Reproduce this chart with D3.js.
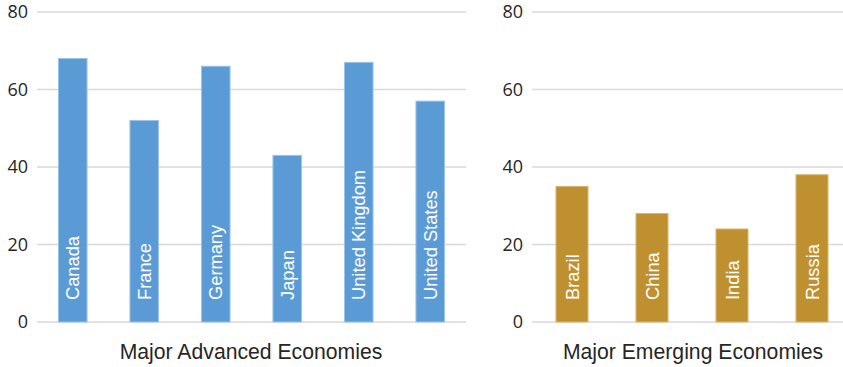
<!DOCTYPE html>
<html><head><meta charset="utf-8">
<script src="https://cdn.jsdelivr.net/npm/d3@7"></script>
<style>body{margin:0;background:#fff;}svg{display:block;}</style>
</head><body>
<svg id="c" width="843" height="367"></svg>
<script>
const advancedCategories = ["Canada","France","Germany","Japan","United Kingdom","United States"];
const advancedValues = [68,52,66,43,67,57];
const emergingCategories = ["Brazil","China","India","Russia"];
const emergingValues = [35,28,24,38];
const yTicks = [0,20,40,60,80];
const panelTitles = ["Major Advanced Economies","Major Emerging Economies"];

const svg = d3.select("#c");
const y = d3.scaleLinear().domain([0,80]).range([322,12]);

function panel(cats, vals, x0, x1, color, stroke, title, titleX){
  const g = svg.append("g");
  const x = d3.scaleBand().domain(cats).range([x0,x1]).paddingInner(0.6).paddingOuter(0.3);
  g.selectAll("line.grid").data(yTicks).join("line")
    .attr("x1",x0).attr("x2",x1).attr("y1",d=>y(d)).attr("y2",d=>y(d))
    .attr("stroke","#d9d9d9").attr("stroke-width",1.5);
  g.selectAll("text.tick").data(yTicks).join("text")
    .attr("x",x0-9).attr("y",d=>y(d)).attr("dy","0.36em")
    .attr("text-anchor","end").attr("font-family","Open Sans, sans-serif")
    .attr("font-size",18).attr("fill","#262626").text(d=>d);
  const data = cats.map((c,i)=>({c,v:vals[i]}));
  g.selectAll("rect").data(data).join("rect")
    .attr("x",d=>x(d.c)).attr("width",x.bandwidth())
    .attr("y",d=>y(d.v)).attr("height",d=>y(0)-y(d.v))
    .attr("fill",color).attr("stroke",stroke).attr("stroke-width",1);
  g.selectAll("text.lab").data(data).join("text")
    .attr("transform",d=>`translate(${x(d.c)+x.bandwidth()/2},${y(0)-22}) rotate(-90)`)
    .attr("dy","0.36em").attr("text-anchor","start")
    .attr("font-family","Liberation Sans, Arial, sans-serif").attr("font-size",18.3)
    .attr("fill","#fff").text(d=>d.c);
  svg.append("text").attr("x",titleX).attr("y",359).attr("text-anchor","middle")
    .attr("font-family","Liberation Sans, Arial, sans-serif").attr("font-size",21.2)
    .attr("fill","#262626").text(title);
}
panel(advancedCategories, advancedValues, 37, 466, "#5b9bd5", "#9cc3e8", panelTitles[0], 251);
panel(emergingCategories, emergingValues, 532, 852, "#bf9030", "#d8b66e", panelTitles[1], 693);
</script>
</body></html>
